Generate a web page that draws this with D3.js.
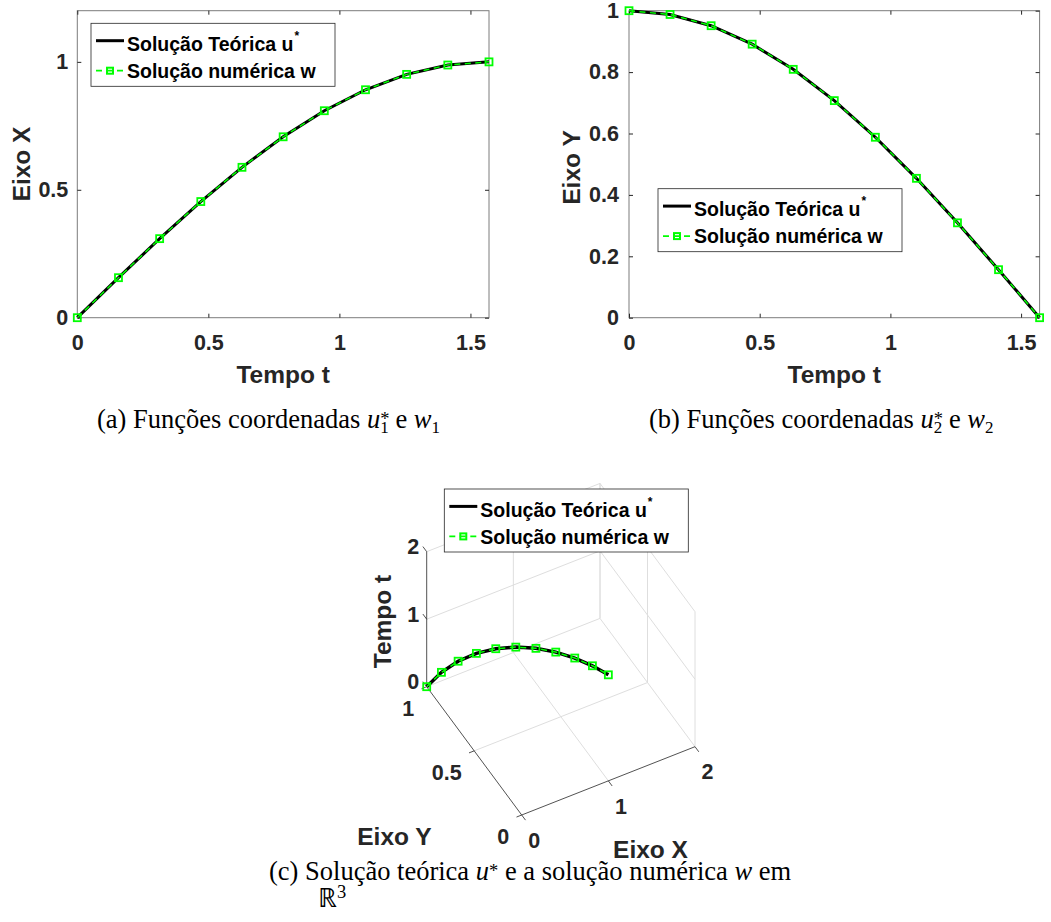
<!DOCTYPE html>
<html>
<head>
<meta charset="utf-8">
<script src="https://cdn.jsdelivr.net/npm/d3@7"></script>
<style>
body{margin:0;background:#fff;}
.sans{font-family:"Liberation Sans",Arial,Helvetica,sans-serif;font-weight:bold;}
.serif{font-family:"Liberation Serif","Times New Roman",serif;}
</style>
</head>
<body>
<div id="fig"></div>
<script>
// data: t from 0 to pi/2 in 10 steps
var tempo = [0, 0.1571, 0.3142, 0.4712, 0.6283, 0.7854, 0.9425, 1.0996, 1.2566, 1.4137, 1.5708];
var teoX = [0, 0.1564, 0.3090, 0.4540, 0.5878, 0.7071, 0.8090, 0.8910, 0.9511, 0.9877, 1.0];
var teoY = [1.0, 0.9877, 0.9511, 0.8910, 0.8090, 0.7071, 0.5878, 0.4540, 0.3090, 0.1564, 0];
var numX = [0, 0.1564, 0.3090, 0.4540, 0.5878, 0.7071, 0.8090, 0.8910, 0.9511, 0.9877, 1.0];
var numY = [1.0, 0.9877, 0.9511, 0.8910, 0.8090, 0.7071, 0.5878, 0.4540, 0.3090, 0.1564, 0];
var ticksT = [0, 0.5, 1, 1.5];
var ticksA = [0, 0.5, 1];
var ticksB = [0, 0.2, 0.4, 0.6, 0.8, 1];
var ticks3X = [0, 1, 2], ticks3Y = [0, 0.5, 1], ticks3Z = [0, 1, 2];
var legendLabels = ["Solução Teórica u", "Solução numérica w"];

var w = 1051, h = 922;
var green = "#00ff00", axisCol = "#262626";
var svg = d3.select("#fig").append("svg")
  .attr("width", w)
  .attr("height", h);

function legend(x0, y0){
  var g = svg.append("g").attr("transform", "translate(" + x0 + "," + y0 + ")");
  g.append("rect")
    .attr("width", 244).attr("height", 63)
    .attr("fill", "#fff").attr("stroke", axisCol).attr("stroke-width", 0.8);
  g.append("line")
    .attr("x1", 5).attr("x2", 33).attr("y1", 17.4).attr("y2", 17.4)
    .attr("stroke", "#000").attr("stroke-width", 3);
  g.append("line")
    .attr("x1", 5).attr("x2", 33).attr("y1", 47.4).attr("y2", 47.4)
    .attr("stroke", green).attr("stroke-width", 1.8).attr("stroke-dasharray", "6,4.5");
  g.append("rect")
    .attr("x", 16).attr("y", 44.4).attr("width", 6).attr("height", 6)
    .attr("fill", "none").attr("stroke", green).attr("stroke-width", 2);
  var t1 = g.append("text").attr("class", "sans")
    .attr("x", 36).attr("y", 27.7).attr("font-size", 19.5).attr("fill", "#000")
    .text(legendLabels[0]);
  t1.append("tspan").attr("font-size", 12).attr("dy", -11).attr("dx", 1).text("*");
  g.append("text").attr("class", "sans")
    .attr("x", 36).attr("y", 54.7).attr("font-size", 19.5).attr("fill", "#000")
    .text(legendLabels[1]);
}

function plot2d(o){
  var x = d3.scaleLinear().domain([0, tempo[tempo.length - 1]]).range([o.left, o.right]);
  var y = d3.scaleLinear().domain(o.yDomain).range([o.bottom, o.top]);
  var g = svg.append("g");
  g.append("rect")
    .attr("x", o.left).attr("y", o.top)
    .attr("width", o.right - o.left).attr("height", o.bottom - o.top)
    .attr("fill", "none").attr("stroke", "#7c7c7c").attr("stroke-width", 1);
  function styleAx(sel){
    sel.attr("font-size", 21.5).attr("class", "sans").style("color", axisCol);
    sel.select(".domain").remove();
    sel.selectAll("line").attr("stroke", axisCol);
  }
  g.append("g").attr("transform", "translate(0," + o.bottom + ")")
    .call(d3.axisBottom(x).tickValues(ticksT).tickSize(-4).tickPadding(17).tickFormat(d => d))
    .call(styleAx);
  g.append("g").attr("transform", "translate(0," + o.top + ")")
    .call(d3.axisTop(x).tickValues(ticksT).tickSize(-4).tickFormat(""))
    .call(styleAx);
  g.append("g").attr("transform", "translate(" + o.left + ",0)")
    .call(d3.axisLeft(y).tickValues(o.yTicks).tickSize(-4).tickPadding(o.pad).tickFormat(d => d))
    .call(styleAx);
  g.append("g").attr("transform", "translate(" + o.right + ",0)")
    .call(d3.axisRight(y).tickValues(o.yTicks).tickSize(-4).tickFormat(""))
    .call(styleAx);

  var lineT = d3.line().x((d, i) => x(tempo[i])).y(d => y(d));
  g.append("path").datum(o.teo)
    .attr("d", lineT).attr("fill", "none")
    .attr("stroke", "#000").attr("stroke-width", 3);
  g.append("path").datum(o.num)
    .attr("d", lineT).attr("fill", "none")
    .attr("stroke", green).attr("stroke-width", 1.5).attr("stroke-dasharray", "6,4.5");
  g.selectAll(".mk").data(o.num).enter().append("rect")
    .attr("class", "mk")
    .attr("x", (d, i) => x(tempo[i]) - 3.5).attr("y", d => y(d) - 3.5)
    .attr("width", 7).attr("height", 7)
    .attr("fill", "none").attr("stroke", green).attr("stroke-width", 1.8);

  g.append("text").attr("class", "sans")
    .attr("x", (o.left + o.right) / 2).attr("y", 382.5)
    .attr("text-anchor", "middle").attr("font-size", 24.5).attr("fill", axisCol)
    .text("Tempo t");
  g.append("text").attr("class", "sans")
    .attr("transform", "translate(" + o.labX + "," + o.labY + ") rotate(-90)")
    .attr("text-anchor", "middle").attr("font-size", 24.5).attr("fill", axisCol)
    .text(o.yLabel);
  legend(o.legX, o.legY);
}

plot2d({left: 77.3, right: 489, top: 10.7, bottom: 317.7, yDomain: [0, 1.2], yTicks: ticksA,
  pad: 9, yLabel: "Eixo X", labX: 29.5, labY: 164, teo: teoX, num: numX, legX: 91, legY: 23.3});
plot2d({left: 629, right: 1039.6, top: 10.7, bottom: 317.7, yDomain: [0, 1], yTicks: ticksB,
  pad: 10, yLabel: "Eixo Y", labX: 579.5, labY: 167.5, teo: teoY, num: numY, legX: 658, legY: 188.7});

// 3D view: each axis contributes a screen offset through its own scale
var pxX = d3.scaleLinear().domain([0, 2]).range([521.7, 695]);
var pyX = d3.scaleLinear().domain([0, 2]).range([815, 746.7]);
var pxY = d3.scaleLinear().domain([0, 1]).range([0, -95]);
var pyY = d3.scaleLinear().domain([0, 1]).range([0, -128.3]);
var pyZ = d3.scaleLinear().domain([0, 2]).range([0, -135]);
function proj(X, Y, Z){ return [pxX(X) + pxY(Y), pyX(X) + pyY(Y) + pyZ(Z)]; }

var g3 = svg.append("g");
var grid = [];
ticks3X.slice(1).forEach(v => { grid.push([[v,0,0],[v,1,0]]); grid.push([[v,1,0],[v,1,2]]); });
ticks3Y.slice(1).forEach(v => grid.push([[0,v,0],[2,v,0]]));
ticks3Y.forEach(v => grid.push([[2,v,0],[2,v,2]]));
ticks3Z.slice(1).forEach(v => { grid.push([[0,1,v],[2,1,v]]); grid.push([[2,0,v],[2,1,v]]); });
grid.forEach(s => {
  var a = proj.apply(null, s[0]), b = proj.apply(null, s[1]);
  g3.append("line").attr("x1", a[0]).attr("y1", a[1]).attr("x2", b[0]).attr("y2", b[1])
    .attr("stroke", "#dedede").attr("stroke-width", 1);
});
[[[0,1,0],[0,1,2]], [[0,0,0],[0,1,0]], [[0,0,0],[2,0,0]]].forEach(s => {
  var a = proj.apply(null, s[0]), b = proj.apply(null, s[1]);
  g3.append("line").attr("x1", a[0]).attr("y1", a[1]).attr("x2", b[0]).attr("y2", b[1])
    .attr("stroke", axisCol).attr("stroke-width", 0.8);
});
function tick3(a, b){
  g3.append("line").attr("x1", a[0]).attr("y1", a[1]).attr("x2", b[0]).attr("y2", b[1])
    .attr("stroke", axisCol).attr("stroke-width", 0.8);
}
ticks3Z.forEach(v => {
  tick3(proj(0,1,v), proj(0,1.04,v));
  var p = proj(0,1,v);
  g3.append("text").attr("class", "sans").attr("font-size", 21.5).attr("fill", axisCol)
    .attr("x", p[0] - 7.5).attr("y", p[1] - 5).attr("dy", "0.36em").attr("text-anchor", "end").text(v);
});
ticks3Y.forEach(v => {
  tick3(proj(0,v,0), proj(-0.06,v,0));
  var p = proj(0,v,0);
  g3.append("text").attr("class", "sans").attr("font-size", 21.5).attr("fill", axisCol)
    .attr("x", p[0] - 12.5).attr("y", p[1] + 21.5).attr("dy", "0.36em").attr("text-anchor", "end").text(v);
});
ticks3X.forEach(v => {
  tick3(proj(v,0,0), proj(v,-0.04,0));
  var p = proj(v,0,0);
  g3.append("text").attr("class", "sans").attr("font-size", 21.5).attr("fill", axisCol)
    .attr("x", p[0] + 12.6).attr("y", p[1] + 25).attr("dy", "0.36em").attr("text-anchor", "middle").text(v);
});
g3.append("text").attr("class", "sans")
  .attr("transform", "translate(390.5,621.5) rotate(-90)")
  .attr("text-anchor", "middle").attr("font-size", 24.5).attr("fill", axisCol).text("Tempo t");
g3.append("text").attr("class", "sans").attr("x", 394.5).attr("y", 845)
  .attr("text-anchor", "middle").attr("font-size", 24.5).attr("fill", axisCol).text("Eixo Y");
g3.append("text").attr("class", "sans").attr("x", 650.5).attr("y", 858)
  .attr("text-anchor", "middle").attr("font-size", 24.5).attr("fill", axisCol).text("Eixo X");

var line3 = d3.line();
var teo3 = tempo.map((t, i) => proj(teoX[i], teoY[i], t));
var num3 = tempo.map((t, i) => proj(numX[i], numY[i], t));
g3.append("path").datum(teo3).attr("d", line3).attr("fill", "none")
  .attr("stroke", "#000").attr("stroke-width", 3.5);
g3.append("path").datum(num3).attr("d", line3).attr("fill", "none")
  .attr("stroke", green).attr("stroke-width", 1.5).attr("stroke-dasharray", "6,4.5");
g3.selectAll(".mk3").data(num3).enter().append("rect").attr("class", "mk3")
  .attr("x", d => d[0] - 3.5).attr("y", d => d[1] - 3.5)
  .attr("width", 7).attr("height", 7)
  .attr("fill", "none").attr("stroke", green).attr("stroke-width", 1.8);
legend(444.3, 489);

// captions
function caption(x0, lab, idx){
  var t = svg.append("text").attr("class", "serif").attr("font-size", 26.5).attr("fill", "#000")
    .attr("x", x0).attr("y", 428);
  t.append("tspan").text("(" + lab + ") Funções coordenadas ");
  t.append("tspan").attr("font-style", "italic").text("u");
  t.append("tspan").attr("font-size", 18.5).attr("dy", -3).text("*");
  t.append("tspan").attr("font-size", 17).attr("dx", -9.2).attr("dy", 8).text(idx);
  t.append("tspan").attr("dy", -5).text(" e ");
  t.append("tspan").attr("font-style", "italic").text("w");
  t.append("tspan").attr("font-size", 17).attr("dy", 5).text(idx);
}
caption(97, "a", "1");
caption(649, "b", "2");

var c1 = svg.append("text").attr("class", "serif").attr("font-size", 26.5).attr("fill", "#000")
  .attr("x", 269).attr("y", 880);
c1.append("tspan").text("(c) Solução teórica ");
c1.append("tspan").attr("font-style", "italic").text("u");
c1.append("tspan").attr("font-size", 18.5).attr("dy", -3).text("*");
c1.append("tspan").attr("dy", 3).text(" e a solução numérica ");
c1.append("tspan").attr("font-style", "italic").text("w");
c1.append("tspan").text(" em");
var c2 = svg.append("text").attr("class", "serif").attr("font-size", 26.5).attr("fill", "#000")
  .attr("x", 318).attr("y", 907);
c2.append("tspan").text("ℝ");
c2.append("tspan").attr("font-size", 18.5).attr("dy", -9).text("3");
</script>
</body>
</html>
